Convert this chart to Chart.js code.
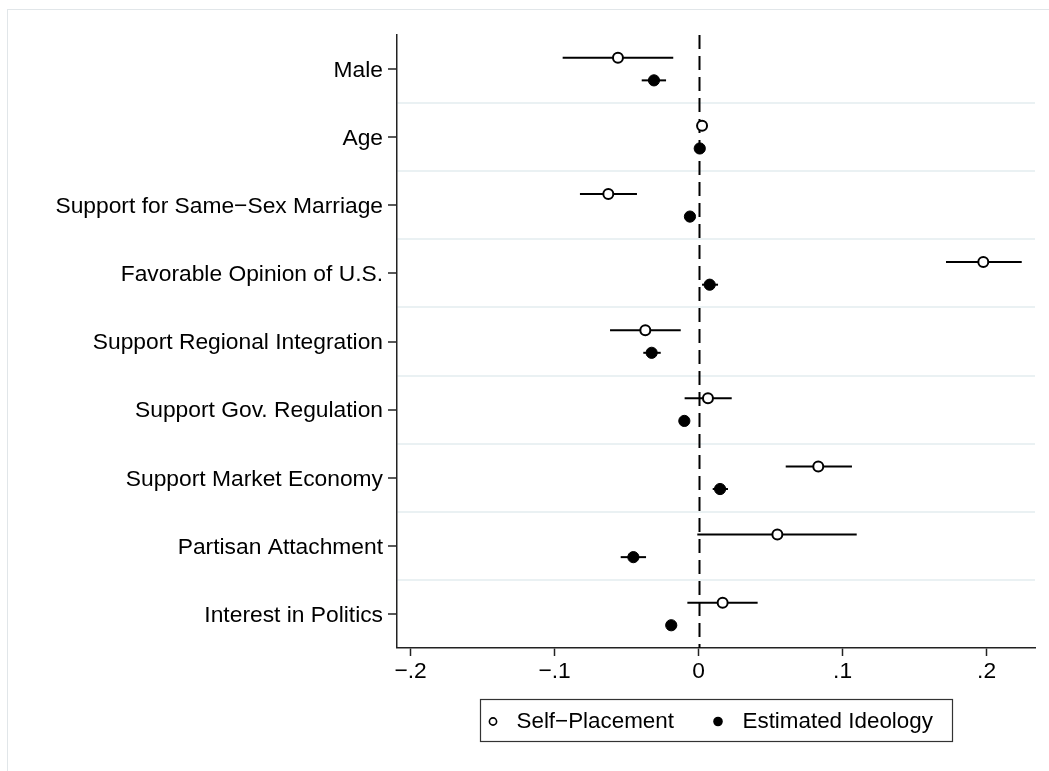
<!DOCTYPE html>
<html>
<head>
<meta charset="utf-8">
<script src="https://cdn.jsdelivr.net/npm/chart.js@4"></script>
<style>
  html, body { margin: 0; padding: 0; background: #fff; }
  #wrap { position: relative; width: 1049px; height: 771px; overflow: hidden; }
  #frame { position: absolute; left: 7px; top: 9px; width: 1100px; height: 800px;
           border-left: 1px solid #e1e6e9; border-top: 1px solid #e1e6e9; }
  canvas { position: absolute; left: 0; top: 0; }
</style>
</head>
<body>
<div id="wrap">
  <div id="frame"></div>
  <canvas id="c" width="1049" height="771"></canvas>
</div>
<script>
const categories = [
  'Male',
  'Age',
  'Support for Same\u2212Sex Marriage',
  'Favorable Opinion of U.S.',
  'Support Regional Integration',
  'Support Gov. Regulation',
  'Support Market Economy',
  'Partisan Attachment',
  'Interest in Politics'
];
const seriesNames = ['Self\u2212Placement', 'Estimated Ideology'];

const selfEst = [-0.056, 0.0024, -0.0627, 0.1977, -0.037, 0.0065, 0.0831, 0.0547, 0.0167];
const selfLo  = [-0.0944, 0.0004, -0.0824, 0.1718, -0.0615, -0.0097, 0.0605, -0.0009, -0.0078];
const selfHi  = [-0.0176, 0.0044, -0.0428, 0.2244, -0.0124, 0.0230, 0.1065, 0.1098, 0.0410];

const estEst = [-0.031, 0.0008, -0.006, 0.0077, -0.0326, -0.0099, 0.0149, -0.0453, -0.019];
const estLo  = [-0.0395, 0.0002, -0.0075, 0.0024, -0.0384, -0.0112, 0.0098, -0.0541, -0.0205];
const estHi  = [-0.0226, 0.0014, -0.0045, 0.0135, -0.0263, -0.0086, 0.0204, -0.0365, -0.0175];

const xTicks = [-0.2, -0.1, 0, 0.1, 0.2];

const FONT = "'Liberation Sans', Arial, Helvetica, sans-serif";
const FSIZE = 22.8;
const OFFSET = 0.166;

function fmtX(v) {
  if (Math.abs(v) < 1e-9) return '0';
  const s = Math.abs(v).toFixed(1).replace(/^0/, '');
  return (v < 0 ? '\u2212' : '') + s;
}

const errorBars = {
  id: 'errorBars',
  beforeDatasetsDraw(chart) {
    const { ctx, chartArea, scales: { x, y } } = chart;
    ctx.save();
    ctx.beginPath();
    ctx.setLineDash([14, 7]);
    ctx.lineWidth = 2;
    ctx.strokeStyle = '#000';
    const x0 = Math.round(x.getPixelForValue(0)) + 0.5;
    ctx.moveTo(x0, chartArea.top);
    ctx.lineTo(x0, chartArea.bottom);
    ctx.stroke();
    ctx.setLineDash([]);
    chart.data.datasets.forEach(ds => {
      ctx.lineWidth = 2;
      ctx.strokeStyle = '#000';
      ds.lo.forEach((lo, i) => {
        const py = y.getPixelForValue(i + ds.shift);
        ctx.beginPath();
        ctx.moveTo(x.getPixelForValue(lo), py);
        ctx.lineTo(x.getPixelForValue(ds.hi[i]), py);
        ctx.stroke();
      });
    });
    ctx.restore();
  }
};

const boxLegend = {
  id: 'boxLegend',
  afterDraw(chart) {
    const { ctx, chartArea } = chart;
    const cx = (chartArea.left + chartArea.right) / 2;
    const w = 472, h = 42;
    const left = Math.round(cx - w / 2) + 0.5;
    const top = Math.round(chartArea.bottom + 51) + 0.5;
    ctx.save();
    ctx.lineWidth = 1.2;
    ctx.strokeStyle = '#333';
    ctx.strokeRect(left, top, w, h);
    const my = top + 22;
    ctx.font = '22.4px ' + FONT;
    ctx.textBaseline = 'middle';
    ctx.textAlign = 'left';
    ctx.beginPath();
    ctx.arc(left + 12.5, my, 3.6, 0, Math.PI * 2);
    ctx.fillStyle = '#fff';
    ctx.fill();
    ctx.lineWidth = 1.6;
    ctx.strokeStyle = '#000';
    ctx.stroke();
    ctx.fillStyle = '#000';
    ctx.fillText(chart.data.datasets[0].label, left + 36, my);
    ctx.beginPath();
    ctx.arc(left + 237.5, my, 4.8, 0, Math.PI * 2);
    ctx.fill();
    ctx.fillText(chart.data.datasets[1].label, left + 262, my);
    ctx.restore();
  }
};

function pts(vals, shift) {
  return vals.map((v, i) => ({ x: v, y: i + shift }));
}

new Chart(document.getElementById('c'), {
  type: 'scatter',
  data: {
    datasets: [
      {
        label: seriesNames[0],
        data: pts(selfEst, -OFFSET),
        lo: selfLo, hi: selfHi, shift: -OFFSET,
        pointRadius: 5, pointHoverRadius: 5,
        pointBorderWidth: 2,
        borderColor: '#000', backgroundColor: '#fff'
      },
      {
        label: seriesNames[1],
        data: pts(estEst, OFFSET),
        lo: estLo, hi: estHi, shift: OFFSET,
        pointRadius: 5.6, pointHoverRadius: 5.6,
        pointBorderWidth: 1,
        borderColor: '#000', backgroundColor: '#000'
      }
    ]
  },
  options: {
    responsive: false,
    devicePixelRatio: 1,
    animation: false,
    events: [],
    layout: { padding: { top: 35, right: 14, left: 0, bottom: 0 } },
    plugins: { legend: { display: false }, tooltip: { enabled: false } },
    scales: {
      x: {
        type: 'linear',
        min: -0.20944, max: 0.23361,
        afterBuildTicks: s => { s.ticks = xTicks.map(v => ({ value: v })); },
        afterFit: s => { s.height = 771 - 648; },
        border: { display: true, color: '#222', width: 1.5 },
        grid: { drawOnChartArea: false, drawTicks: true, tickLength: 8, tickColor: '#222', tickWidth: 1.5 },
        ticks: {
          padding: 2,
          color: '#000',
          font: { family: FONT, size: FSIZE },
          callback: v => fmtX(v)
        }
      },
      y: {
        type: 'linear',
        reverse: true,
        min: -0.5, max: 8.5,
        afterBuildTicks: s => {
          const t = [];
          for (let i = 0; i < categories.length; i++) {
            t.push({ value: i });
            if (i < categories.length - 1) t.push({ value: i + 0.5 });
          }
          s.ticks = t;
        },
        afterFit: s => { s.width = 397; },
        border: { display: true, color: '#222', width: 1.5 },
        grid: {
          drawOnChartArea: true,
          tickLength: 9,
          color: c => (c.tick && Number.isInteger(c.tick.value)) ? 'rgba(0,0,0,0)' : '#eaf1f3',
          lineWidth: c => (c.tick && Number.isInteger(c.tick.value)) ? 0 : 2,
          tickColor: c => (c.tick && Number.isInteger(c.tick.value)) ? '#222' : 'rgba(0,0,0,0)',
          tickWidth: 1.5
        },
        ticks: {
          autoSkip: false,
          padding: 5,
          labelOffset: 1.5,
          color: '#000',
          font: { family: FONT, size: FSIZE },
          callback: v => Number.isInteger(v) ? categories[v] : ''
        }
      }
    }
  },
  plugins: [errorBars, boxLegend]
});
</script>
</body>
</html>
